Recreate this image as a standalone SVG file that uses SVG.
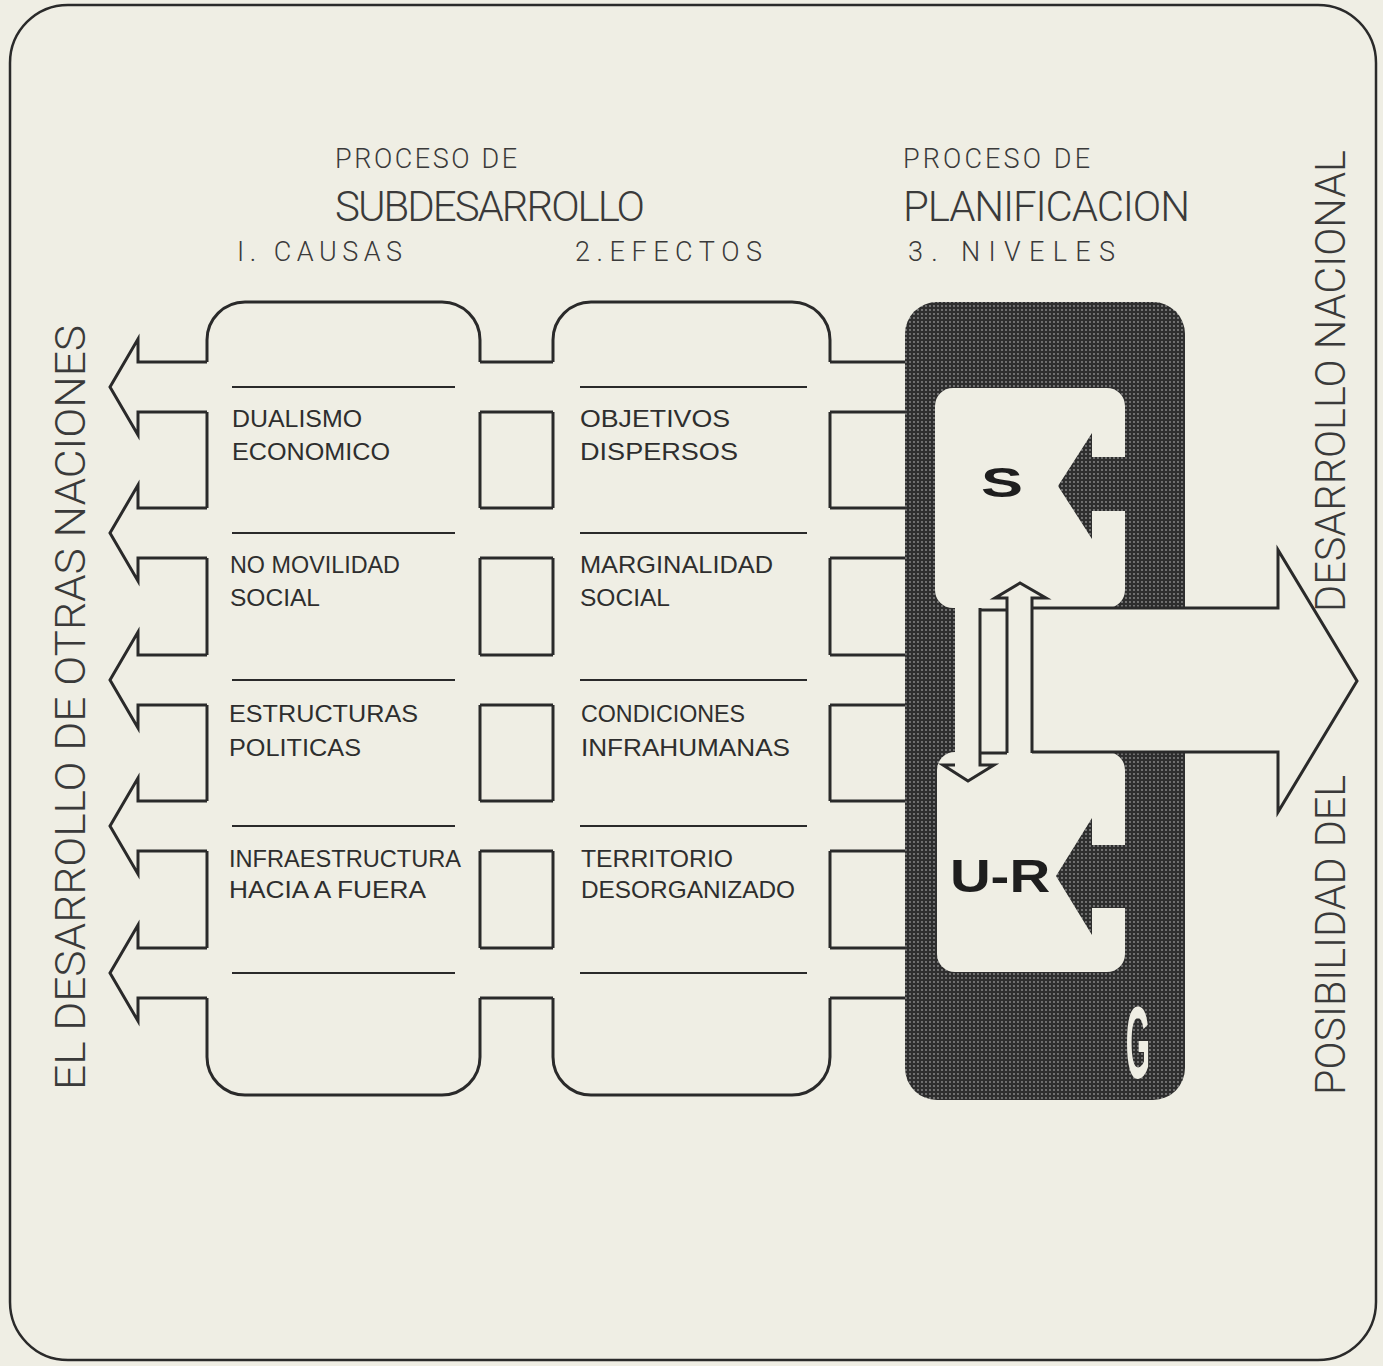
<svg xmlns="http://www.w3.org/2000/svg" width="1383" height="1366" viewBox="0 0 1383 1366">
<defs>
<pattern id="stip" width="4" height="4" patternUnits="userSpaceOnUse">
<rect width="4" height="4" fill="#2e2e2e"/>
<circle cx="2" cy="2" r="0.9" fill="#8e8e8e"/>
</pattern>
<style>
.ln{fill:none;stroke:#2a2a2a;stroke-width:3;stroke-linejoin:miter}
.sep{fill:none;stroke:#2a2a2a;stroke-width:2}
.lt{fill:#efeee4}
.body{font-family:"Liberation Sans",Arial,sans-serif;font-size:24px;fill:#2e2e2e}
.hd{font-family:Roboto,"Liberation Sans",sans-serif;font-weight:300;fill:#3a3a3a}
.vt{font-family:Roboto,"Liberation Sans",sans-serif;font-weight:300;font-size:42px;fill:#3a3a3a}
.big{font-family:"Liberation Sans",Arial,sans-serif;font-weight:bold;fill:#1e1e1e}
</style>
</defs>
<rect width="1383" height="1366" fill="#efeee4"/>
<rect id="frame" x="10" y="5" width="1366" height="1355" rx="58" ry="58" fill="none" stroke="#2a2a2a" stroke-width="2.5"/>

<g id="headers">
<text class="hd" x="335" y="168" font-size="27" textLength="182" lengthAdjust="spacing">PROCESO DE</text>
<text class="hd" x="335" y="221" font-size="42" textLength="310" lengthAdjust="spacing">SUBDESARROLLO</text>
<text class="hd" x="237" y="261" font-size="27" textLength="165" lengthAdjust="spacing">I. CAUSAS</text>
<text class="hd" x="575" y="261" font-size="27" textLength="187" lengthAdjust="spacing">2.EFECTOS</text>
<text class="hd" x="903" y="168" font-size="27" textLength="187" lengthAdjust="spacing">PROCESO DE</text>
<text class="hd" x="903" y="221" font-size="42" textLength="287" lengthAdjust="spacing">PLANIFICACION</text>
<text class="hd" x="908" y="261" font-size="27" textLength="207" lengthAdjust="spacing">3. NIVELES</text>
</g>

<g id="side-labels">
<text class="vt" transform="translate(85,1090) rotate(-90)" textLength="765" lengthAdjust="spacingAndGlyphs">EL DESARROLLO DE OTRAS NACIONES</text>
<text class="vt" transform="translate(1345,1095) rotate(-90)" textLength="320" lengthAdjust="spacingAndGlyphs">POSIBILIDAD DEL</text>
<text class="vt" transform="translate(1345,612) rotate(-90)" textLength="462" lengthAdjust="spacingAndGlyphs">DESARROLLO NACIONAL</text>
</g>

<g id="causas">
<path class="ln" d="M207,362 V340 A38,38 0 0 1 245,302 H442 A38,38 0 0 1 480,340 V362"/>
<path class="ln" d="M207,998 V1057 A38,38 0 0 0 245,1095 H442 A38,38 0 0 0 480,1057 V998"/>
<path class="ln" d="M207,412 V508 M207,558 V655 M207,705 V801 M207,851 V948 M480,412 V508 M480,558 V655 M480,705 V801 M480,851 V948"/>
<path class="sep" d="M232,387 H455 M232,533 H455 M232,680 H455 M232,826 H455 M232,973 H455"/>
<text class="body" x="232" y="427" textLength="130" lengthAdjust="spacingAndGlyphs">DUALISMO</text>
<text class="body" x="232" y="460" textLength="158" lengthAdjust="spacingAndGlyphs">ECONOMICO</text>
<text class="body" x="230" y="573" textLength="170" lengthAdjust="spacingAndGlyphs">NO MOVILIDAD</text>
<text class="body" x="230" y="606" textLength="90" lengthAdjust="spacingAndGlyphs">SOCIAL</text>
<text class="body" x="229" y="722" textLength="189" lengthAdjust="spacingAndGlyphs">ESTRUCTURAS</text>
<text class="body" x="229" y="756" textLength="132" lengthAdjust="spacingAndGlyphs">POLITICAS</text>
<text class="body" x="229" y="867" textLength="232" lengthAdjust="spacingAndGlyphs">INFRAESTRUCTURA</text>
<text class="body" x="229" y="898" textLength="197" lengthAdjust="spacingAndGlyphs">HACIA A FUERA</text>
</g>

<g id="efectos">
<path class="ln" d="M553,362 V340 A38,38 0 0 1 591,302 H792 A38,38 0 0 1 830,340 V362"/>
<path class="ln" d="M553,998 V1057 A38,38 0 0 0 591,1095 H792 A38,38 0 0 0 830,1057 V998"/>
<path class="ln" d="M553,412 V508 M553,558 V655 M553,705 V801 M553,851 V948 M830,412 V508 M830,558 V655 M830,705 V801 M830,851 V948"/>
<path class="sep" d="M580,387 H807 M580,533 H807 M580,680 H807 M580,826 H807 M580,973 H807"/>
<text class="body" x="580" y="427" textLength="150" lengthAdjust="spacingAndGlyphs">OBJETIVOS</text>
<text class="body" x="580" y="460" textLength="158" lengthAdjust="spacingAndGlyphs">DISPERSOS</text>
<text class="body" x="580" y="573" textLength="193" lengthAdjust="spacingAndGlyphs">MARGINALIDAD</text>
<text class="body" x="580" y="606" textLength="90" lengthAdjust="spacingAndGlyphs">SOCIAL</text>
<text class="body" x="581" y="722" textLength="164" lengthAdjust="spacingAndGlyphs">CONDICIONES</text>
<text class="body" x="581" y="756" textLength="209" lengthAdjust="spacingAndGlyphs">INFRAHUMANAS</text>
<text class="body" x="581" y="867" textLength="152" lengthAdjust="spacingAndGlyphs">TERRITORIO</text>
<text class="body" x="581" y="898" textLength="214" lengthAdjust="spacingAndGlyphs">DESORGANIZADO</text>
</g>

<g id="niveles">
<rect x="905" y="302" width="280" height="798" rx="32" ry="32" fill="url(#stip)"/>
<g id="nivel-s">
<path class="lt" d="M953,388 H1107 A18,18 0 0 1 1125,406 V457 H1092 V433 L1058,486 L1092,539 V511 H1125 V590 A18,18 0 0 1 1107,608 H953 A18,18 0 0 1 935,590 V406 A18,18 0 0 1 953,388 Z"/>
<text class="big" font-size="42" transform="translate(1002,497) scale(1.5,1)" text-anchor="middle">S</text>
</g>
<g id="nivel-ur">
<path class="lt" d="M955,752 H1107 A18,18 0 0 1 1125,770 V845 H1092 V818 L1056,876 L1092,935 V908 H1125 V954 A18,18 0 0 1 1107,972 H955 A18,18 0 0 1 937,954 V770 A18,18 0 0 1 955,752 Z"/>
<text class="big" font-size="47" transform="translate(1000,892) scale(1.2,1)" text-anchor="middle">U-R</text>
</g>
<rect class="lt" x="955" y="596" width="80" height="170"/>
<rect class="lt" x="1030" y="608" width="160" height="144"/>
<text class="big" font-size="52" style="fill:#efeee4" transform="translate(1138,1078) scale(0.6,1.95)" text-anchor="middle">G</text>
</g>

<g id="connectors">
<path class="ln" d="M207,362 H138 V339 L110,387 L138,435 V412 H207"/>
<path class="ln" d="M207,508 H138 V485 L110,533 L138,581 V558 H207"/>
<path class="ln" d="M207,655 H138 V632 L110,680 L138,728 V705 H207"/>
<path class="ln" d="M207,801 H138 V778 L110,826 L138,874 V851 H207"/>
<path class="ln" d="M207,948 H138 V925 L110,973 L138,1021 V998 H207"/>
<path class="ln" d="M480,362 H553 M480,412 H553 M480,508 H553 M480,558 H553 M480,655 H553 M480,705 H553 M480,801 H553 M480,851 H553 M480,948 H553 M480,998 H553"/>
<path class="ln" d="M830,362 H905 M830,412 H905 M830,508 H905 M830,558 H905 M830,655 H905 M830,705 H905 M830,801 H905 M830,851 H905 M830,948 H905 M830,998 H905"/>
<path class="ln" d="M1032,608 H1278 V550 L1357,681 L1278,812 V752 H1032" fill="#efeee4"/>
<path class="ln" d="M1007,753 V598 H995 L1020,583 L1046,598 H1032 V753" fill="#efeee4"/>
<path class="ln" d="M980,610 H1007 M980,753 H1007"/>
<path class="ln" d="M980,608 V765 H994 L968,781 L943,765 H955"/>
</g>
</svg>
